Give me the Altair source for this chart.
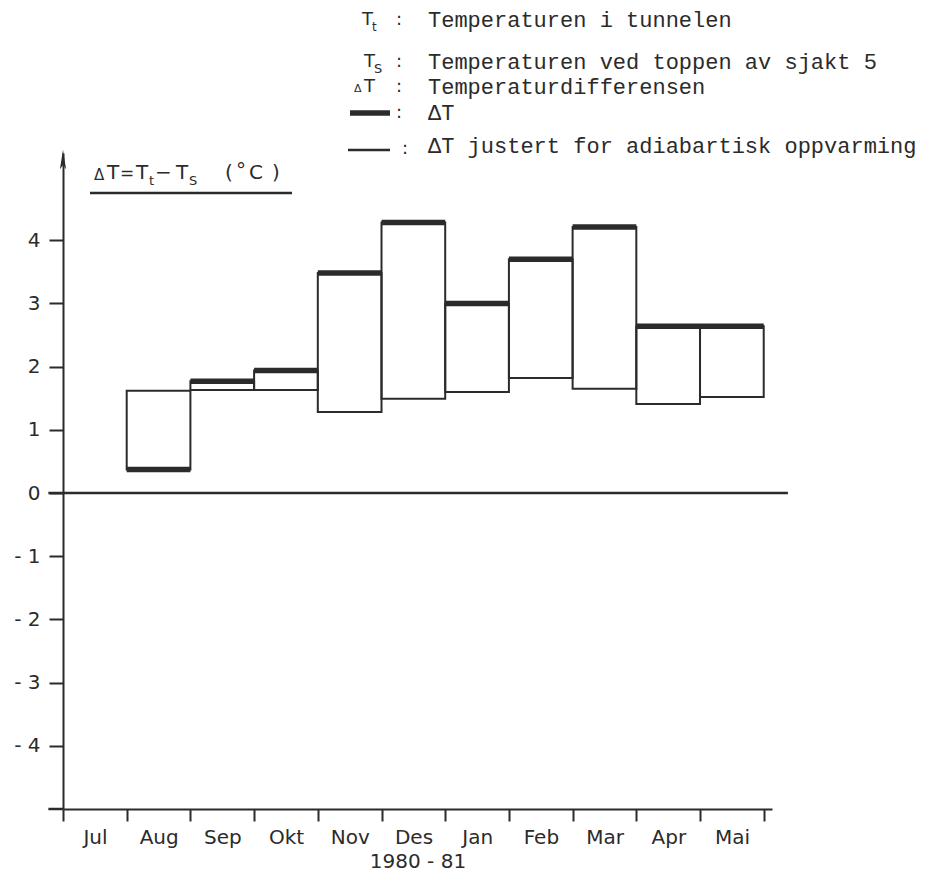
import altair as alt
import pandas as pd

# ---- data ----
MONTHS = ["Jul", "Aug", "Sep", "Okt", "Nov", "Des", "Jan", "Feb", "Mar", "Apr", "Mai"]
DELTA_T = [None, 0.37, 1.77, 1.94, 3.48, 4.28, 3.00, 3.70, 4.21, 2.64, 2.64]
DELTA_T_ADJ = [None, 1.62, 1.63, 1.63, 1.28, 1.49, 1.60, 1.82, 1.65, 1.41, 1.52]
Y_TICKS = [-4, -3, -2, -1, 0, 1, 2, 3, 4]
X_LABEL = "1980 - 81"

INK = "#2b2b2b"
LABEL_FONT = "DejaVu Sans"
MONO = "Liberation Mono"

rows = []
for i, (m, a, b) in enumerate(zip(MONTHS, DELTA_T, DELTA_T_ADJ)):
    if a is None or b is None:
        continue
    rows.append({"month": m, "x0": i, "x1": i + 1, "lo": b, "hi": a})
df = pd.DataFrame(rows)

X_DOMAIN = [0, 11.13]
Y_DOMAIN = [-5, 5.38]
xscale = alt.Scale(domain=X_DOMAIN, nice=False, zero=False)
yscale = alt.Scale(domain=Y_DOMAIN, nice=False, zero=False)

month_arr = "[" + ",".join("'" + m + "'" for m in MONTHS) + ",'']"

xaxis = alt.Axis(
    values=list(range(len(MONTHS) + 1)), labelExpr=month_arr + "[datum.value]",
    labelOffset=32, labelFlush=False, labelOverlap=False, labelBound=False,
    tickSize=12, tickWidth=2, domainWidth=2, domainColor=INK, tickColor=INK,
    labelColor=INK, labelFont=LABEL_FONT, labelFontSize=20, labelPadding=6,
    grid=False, title=X_LABEL, titleFont=LABEL_FONT, titleFontSize=20,
    titleFontWeight="normal", titleColor=INK, titlePadding=4)
yaxis = alt.Axis(
    values=Y_TICKS, labelExpr="datum.value < 0 ? '- ' + abs(datum.value) : '' + datum.value",
    tickSize=14, tickWidth=2, domainWidth=2, domainColor=INK, tickColor=INK,
    labelColor=INK, labelFont=LABEL_FONT, labelFontSize=20, labelPadding=9,
    grid=False, title=None)


def X(f):
    return alt.X(f, scale=xscale, axis=xaxis, title=X_LABEL)


def Y(f):
    return alt.Y(f, scale=yscale, axis=yaxis, title=None)


boxes = alt.Chart(df).mark_rect(fill="transparent", stroke=INK, strokeWidth=2).encode(
    x=X("x0:Q"), x2="x1:Q", y=Y("lo:Q"), y2="hi:Q",
)

thick = alt.Chart(df).mark_rule(color=INK, strokeWidth=5.5).encode(
    x=X("x0:Q"), x2="x1:Q", y=Y("hi:Q"),
)

# reference lines (zero line, bottom axis extension)
ref = pd.DataFrame({"x0": [-0.23, -0.23], "x1": [11.38, 0.0], "lo": [0.0, -5.0]})
reflines = alt.Chart(ref).mark_rule(color=INK, strokeWidth=2.5).encode(
    x=X("x0:Q"), x2="x1:Q", y=Y("lo:Q"),
)

arrow_df = pd.DataFrame({"x0": [0.0], "lo": [5.27]})
arrow = alt.Chart(arrow_df).mark_point(
    shape="M0,-1L0.3,0.9L0,0.5L-0.3,0.9Z", filled=True, size=420, color=INK, opacity=1,
    strokeWidth=0.5,
).encode(x=X("x0:Q"), y=Y("lo:Q"))

# ---- annotations (page pixel positions converted to plot coordinates) ----
OX, OY = 63, 153
one = pd.DataFrame({"a": [0]})


def txt(s, x, y, size, font, align="left"):
    return alt.Chart(one).mark_text(
        text=s, font=font, fontSize=size, align=align, baseline="middle", color=INK
    ).encode(x=alt.value(x - OX), y=alt.value(y - OY))


def hline(x1, x2, y, w):
    return alt.Chart(one).mark_rule(color=INK, strokeWidth=w).encode(
        x=alt.value(x1 - OX), x2=alt.value(x2 - OX), y=alt.value(y - OY)
    )


LEG_Y = [20, 62, 87, 113, 146]
TX = 428
MS = 22
ann = [
    # legend symbols
    txt("T", 362, LEG_Y[0], 18, LABEL_FONT), txt("t", 372, LEG_Y[0] + 7, 12, LABEL_FONT),
    txt(":", 396, LEG_Y[0], 18, LABEL_FONT),
    txt("T", 364, LEG_Y[1], 18, LABEL_FONT), txt("S", 374, LEG_Y[1] + 7, 13, LABEL_FONT),
    txt(":", 396, LEG_Y[1], 18, LABEL_FONT),
    txt("Δ", 354, LEG_Y[2] + 2, 11, LABEL_FONT), txt("T", 364, LEG_Y[2], 18, LABEL_FONT),
    txt(":", 396, LEG_Y[2], 18, LABEL_FONT),
    hline(350, 390, LEG_Y[3], 5.5), txt(":", 396, LEG_Y[3], 18, LABEL_FONT),
    hline(348, 390, LEG_Y[4] + 4, 2.5), txt(":", 402, LEG_Y[4] + 3, 18, LABEL_FONT),
    # legend texts
    txt("Temperaturen i tunnelen", TX, LEG_Y[0], MS, MONO),
    txt("Temperaturen ved toppen av sjakt 5", TX, LEG_Y[1], MS, MONO),
    txt("Temperaturdifferensen", TX, LEG_Y[2], MS, MONO),
    txt("ΔT", TX, LEG_Y[3], MS, MONO),
    txt("ΔT justert for adiabartisk oppvarming", TX, LEG_Y[4], MS, MONO),
    # y-axis label: ΔT = Tt − Ts (°C)
    txt("Δ", 94, 175, 15, LABEL_FONT),
    txt("T", 107, 173, 20, LABEL_FONT),
    txt("=", 120, 174, 17, LABEL_FONT),
    txt("T", 136, 173, 20, LABEL_FONT), txt("t", 149, 181, 13, LABEL_FONT),
    txt("−", 155, 173, 20, LABEL_FONT),
    txt("T", 176, 173, 20, LABEL_FONT), txt("S", 189, 181, 13, LABEL_FONT),
    txt("(", 225, 173, 20, LABEL_FONT),
    txt("°", 236, 171, 20, LABEL_FONT),
    txt("C", 249, 173, 20, LABEL_FONT),
    txt(")", 272, 173, 20, LABEL_FONT),
    hline(90, 292, 193, 2.5),
]

chart = alt.layer(boxes, thick, reflines, arrow, *ann).properties(
    width=709, height=656,
    autosize=alt.AutoSizeParams(type="none"),
    padding={"left": 55, "top": 145, "right": 150, "bottom": 64},
    background="white",
).configure_view(stroke=None)

chart.save("out.html", embed_options={"renderer": "svg", "actions": False})
